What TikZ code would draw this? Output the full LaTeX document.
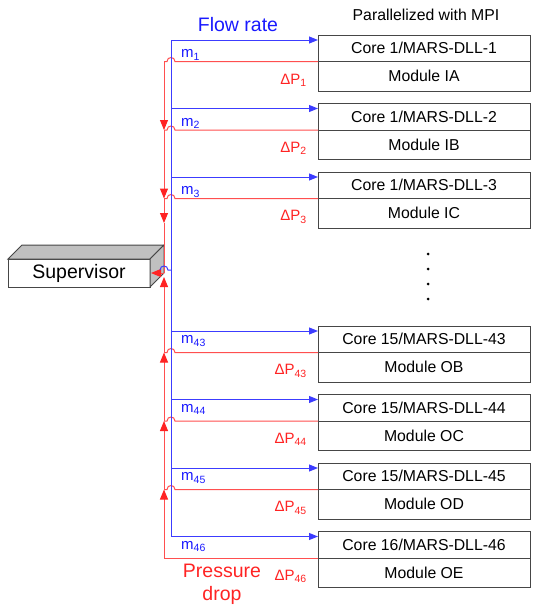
\documentclass[tikz,border=0pt]{standalone}
\usepackage{fontspec}
\setmainfont{Liberation Sans}
\usetikzlibrary{arrows.meta,calc}
\definecolor{flowblue}{RGB}{25,25,255}
\definecolor{dropred}{RGB}{255,35,35}
\definecolor{edgegray}{RGB}{70,70,70}
\definecolor{boxgray}{RGB}{192,192,192}

\begin{document}
\begin{tikzpicture}[x=1pt,y=-1pt,
  flowline/.style={draw=flowblue!85,line width=1pt},
  dropline/.style={draw=dropred!80,line width=1pt},
  flowtip/.style={-{Triangle[length=9pt,width=7pt]},draw=flowblue!85,line width=1pt},
  droptip/.style={-{Triangle[length=10pt,width=8pt,fill=dropred,color=dropred]}},
  cell/.style={draw=edgegray,line width=1pt,minimum width=212pt,inner sep=0pt,outer sep=0pt,
    anchor=north west,font=\fontsize{15.8}{18}\selectfont},
  flowlabel/.style={text=flowblue,font=\fontsize{15}{16}\selectfont,inner sep=0pt},
  droplabel/.style={text=dropred,font=\fontsize{15}{16}\selectfont,inner sep=0pt},
  biglabel/.style={font=\fontsize{19.5}{23}\selectfont,inner sep=0pt,align=center}]
\useasboundingbox (0,0) rectangle (533,608);

% titles
\node[biglabel,text=flowblue] (flowtitle) at (238,25) {Flow rate};
\node[font=\fontsize{15.8}{18}\selectfont,inner sep=0pt] (mpititle) at (426,15) {Parallelized with MPI};
\node[biglabel,text=dropred] (droptitle) at (222,584) {Pressure\\drop};

% module boxes, blue feed arrows and red return lines
\foreach \t/\c/\k/\m/\d in {35/1/1/IA/20, 103.5/1/2/IB/20, 172/1/3/IC/20,
                          326/15/43/OB/15, 394.5/15/44/OC/15, 463/15/45/OD/15, 531.5/16/46/OE/15}{
  \node[cell,minimum height=26.5pt] (hdr\k) at (318,\t) {Core \c/MARS-DLL-\k};
  \node[cell,minimum height=29.5pt] (mod\k) at (hdr\k.south west) {Module \m};
  \coordinate (bj\k) at (171,\t+5);
  \coordinate (rj\k) at (164,\t+26.5);
  \draw[flowtip] (bj\k) -- (hdr\k.west |- bj\k);
  \ifnum\k<46
    \draw[dropline] (rj\k) -- (167,\t+26.5)
      .. controls (167,\t+21.2) and (175,\t+21.2) .. (175,\t+26.5)
      -- (hdr\k.south west);
  \else
    \draw[dropline] (rj\k) -- (hdr\k.south west);
  \fi
  \node[flowlabel,anchor=west] (mlab\k) at (181,\t+\d) {m\textsubscript{\k}};
  \node[droplabel,anchor=east] (plab\k) at (307,\t+45) {ΔP\textsubscript{\k}};
}

% blue feeder trunk
\draw[flowline] (bj1) -- (bj46);

% supervisor block
\node[draw=edgegray,line width=1pt,fill=white,minimum width=142pt,minimum height=28pt,
      inner sep=0pt,outer sep=0pt,font=\fontsize{19.5}{23}\selectfont] (sup) at (79,273) {Supervisor};
\draw[edgegray,line width=1pt,fill=boxgray]
  (sup.north west) -- ++(14,-14) -- ++(142,0) -- (sup.north east) -- cycle;
\draw[edgegray,line width=1pt,fill=boxgray]
  (sup.north east) -- ++(14,-14) -- ++(0,28) -- (sup.south east) -- cycle;

% red collector trunk
\coordinate (rdn) at (164,223);
\coordinate (rin) at (164,273);
\coordinate (rup) at (164,277);
\coordinate (supin) at (151,273);
\draw[dropline,droptip] (rj1) -- (rj2);
\draw[dropline,droptip] (rj2) -- (rj3);
\draw[dropline,droptip] (rj3) -- (rdn);
\draw[dropline] (rdn) -- (rin);
\draw[dropline,droptip] (rin) -- (supin);
\draw[dropline,droptip] (rj46) -- (rj45);
\draw[dropline,droptip] (rj45) -- (rj44);
\draw[dropline,droptip] (rj44) -- (rj43);
\draw[dropline,droptip] (rj43) -- (rup);

% blue link from supervisor hopping over the red trunk
\coordinate (bsup) at (171,270);
\draw[flowline] (160,270) .. controls (160,264.7) and (168,264.7) .. (168,270) -- (bsup);

% ellipsis between module groups
\foreach \y in {254,269,284,299}{
  \fill (428,\y) circle[radius=1.5];
}
\end{tikzpicture}
\end{document}
